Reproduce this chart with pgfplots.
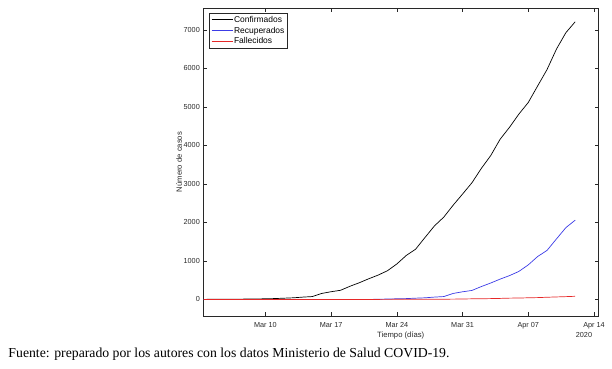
\documentclass[border=0pt]{standalone}
\usepackage{pgfplots}
\pgfplotsset{compat=1.18}
\usepackage{fontspec}
\setmainfont{Liberation Sans}
\newfontfamily\capfont{Liberation Serif}
\definecolor{mblue}{RGB}{60,60,230}
\definecolor{mred}{RGB}{230,40,40}
\definecolor{axgray}{RGB}{40,40,40}
\begin{document}
\begin{tikzpicture}
\useasboundingbox (0,0) rectangle (612bp,369bp);
\begin{axis}[
  at={(203.5bp,53bp)}, anchor=south west,
  scale only axis, width=394.5bp, height=308bp,
  xmin=2.4, xmax=44.43, ymin=-430, ymax=7570,
  axis line style={axgray, line width=0.5bp},
  every tick/.style={axgray, line width=0.5bp},
  tick align=inside, major tick length=3.5bp,
  xtick={9,16,23,30,37,44},
  xticklabels={Mar 10,Mar 17,Mar 24,Mar 31,Apr 07,Apr 14},
  ytick={0,1000,2000,3000,4000,5000,6000,7000},
  scaled y ticks=false,
  /pgf/number format/assume math mode=true,
  /pgf/number format/1000 sep={},
  tick label style={font=\fontsize{7.3}{8}\selectfont, text=axgray},
  xticklabel style={anchor=base, yshift=-11.7bp, inner sep=0pt},
  yticklabel style={anchor=east, xshift=-3.5bp, inner sep=0pt},
  xlabel={Tiempo (días)},
  ylabel={Número de casos},
  label style={font=\fontsize{7.7}{8}\selectfont, text=axgray},
  xlabel style={at={(axis description cs:0.5,-0.0617)}, anchor=center, inner sep=0pt},
  ylabel style={at={(axis description cs:-0.0622,0.5)}, anchor=center, inner sep=0pt},
  legend style={at={(axis description cs:0.0147,0.983)}, anchor=north west,
    draw=axgray, line width=0.5bp, inner sep=1.5bp, fill=white,
    font=\fontsize{8.5}{9}\selectfont, row sep=0.6bp,
    nodes={inner sep=1bp, text height=6.4bp, text depth=1.8bp}},
  legend cell align=left,
  legend image code/.code={\draw[#1] (0bp,0.5bp) -- (21bp,0.5bp);},
  clip mode=individual,
]
\addplot[draw=black, line width=0.7bp, forget plot] coordinates {
(2,1)(3,3)(4,4)(5,5)(6,7)(7,10)(8,13)(9,17)(10,23)(11,33)(12,43)(13,61)(14,75)
(15,156)(16,201)(17,238)(18,342)(19,434)(20,537)(21,632)(22,746)(23,922)
(24,1142)(25,1306)(26,1610)(27,1909)(28,2139)(29,2449)(30,2738)(31,3031)
(32,3404)(33,3737)(34,4161)(35,4471)(36,4815)(37,5116)(38,5546)(39,5972)
(40,6501)(41,6927)(42,7213)};
\addplot[draw=mblue, line width=0.7bp, forget plot] coordinates {
(2,0)(3,0)(4,0)(5,0)(6,0)(7,0)(8,0)(9,0)(10,0)(11,0)(12,0)(13,0)(14,0)
(15,0)(16,0)(17,0)(18,0)(19,0)(20,0)(21,5)(22,11)(23,17)(24,22)(25,33)
(26,43)(27,61)(28,75)(29,156)(30,199)(31,234)(32,335)(33,427)(34,528)
(35,619)(36,728)(37,898)(38,1115)(39,1274)(40,1571)(41,1864)(42,2059)};
\addplot[draw=mred, line width=0.7bp, forget plot] coordinates {
(2,0)(3,0)(4,0)(5,0)(6,0)(7,0)(8,0)(9,0)(10,0)(11,0)(12,0)(13,0)(14,0)
(15,0)(16,0)(17,0)(18,0)(19,0)(20,1)(21,1)(22,2)(23,3)(24,3)(25,4)
(26,5)(27,6)(28,7)(29,8)(30,12)(31,16)(32,18)(33,22)(34,27)(35,34)
(36,37)(37,43)(38,48)(39,57)(40,65)(41,73)(42,82)};
\addlegendimage{draw=black, line width=1bp}
\addlegendentry{Confirmados}
\addlegendimage{draw=mblue, line width=1bp}
\addlegendentry{Recuperados}
\addlegendimage{draw=mred, line width=1bp}
\addlegendentry{Fallecidos}
\node[font=\fontsize{7.3}{8}\selectfont, text=axgray, inner sep=0pt, anchor=center]
  at (axis description cs:0.9645,-0.0617) {2020};
\end{axis}
\node[anchor=base west, inner sep=0pt, font=\capfont\fontsize{13.8}{15}\selectfont]
  at (8.3bp,11.3bp) {Fuente: preparado por los autores con los datos Ministerio de Salud COVID-19.};
\end{tikzpicture}
\end{document}
